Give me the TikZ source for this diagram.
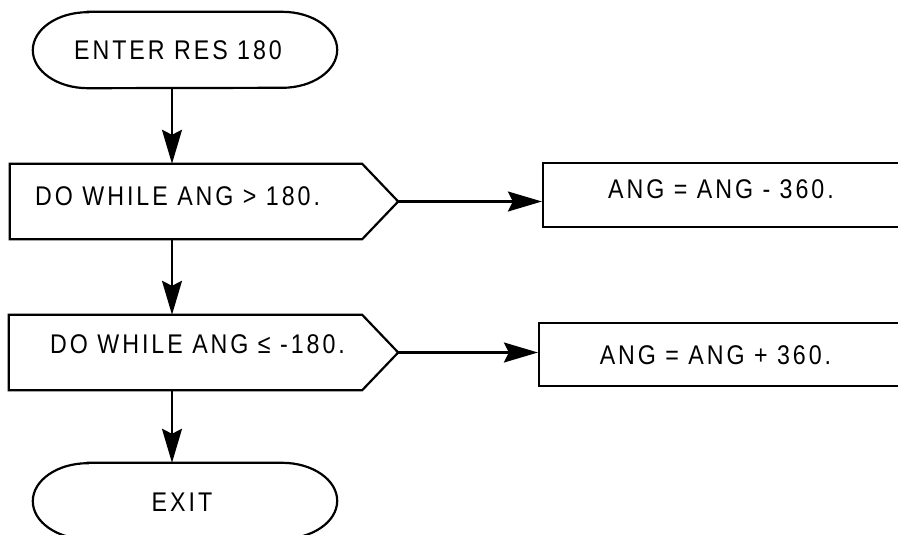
\documentclass[tikz,border=0pt]{standalone}
\usepackage{fontspec}
\setmainfont{Liberation Sans}
\newfontfamily\chartfont[FakeStretch=0.86,LetterSpace=11]{Liberation Sans}
\usetikzlibrary{arrows.meta}

\tikzset{
  flow/.style={line width=2.2pt},
  arr/.style={flow, -{Stealth[length=34pt,width=20pt,inset=5pt]}},
  txt/.style={font=\chartfont\fontsize{27}{30}\selectfont, inner sep=0pt},
  term/.style={minimum width=304pt, minimum height=76pt, inner sep=0pt},
  loopbody/.style={minimum height=75pt, inner sep=0pt},
  actbox/.style={draw, flow, inner sep=0pt},
}

% oval ends of a terminal
\newcommand{\termoutline}[1]{%
  \draw[flow] ([xshift=55pt]#1.north west) -- ([xshift=-55pt]#1.north east)
    arc[start angle=90, end angle=-90, x radius=55pt, y radius=38pt]
    -- ([xshift=55pt]#1.south west)
    arc[start angle=270, end angle=90, x radius=55pt, y radius=38pt] -- cycle;}

% box with a pointed right end
\newcommand{\loopoutline}[1]{%
  \coordinate (#1tip) at ([xshift=36pt]#1.east);
  \draw[flow] (#1.north west) -- (#1.north east) -- (#1tip)
    -- (#1.south east) -- (#1.south west) -- cycle;}

\begin{document}
\begin{tikzpicture}[x=1pt, y=-1pt]
\clip (0,0) rectangle (898,535);

\node[term] (enter) at (185, 50) {};
\termoutline{enter}
\node[txt, anchor=base] (entertxt) at (178, 60) {ENTER RES 180};

\node[loopbody, minimum width=352pt] (w1) at (186, 201.5) {};
\loopoutline{w1}
\node[txt, anchor=base west] (w1txt) at (35, 205) {DO WHILE ANG > 180.};

\node[loopbody, minimum width=353pt] (w2) at (185.5, 352.5) {};
\loopoutline{w2}
\node[txt, anchor=base west] (w2txt) at (50, 353) {DO WHILE ANG ≤ -180.};

\node[term] (exit) at (185, 501) {};
\termoutline{exit}
\node[txt, anchor=base] (exittxt) at (182, 511) {EXIT};

% right hand boxes run past the edge
\node[actbox, minimum width=362pt, minimum height=64pt] (a1) at (724, 195) {};
\node[txt, anchor=base] (a1txt) at (721, 198) {ANG = ANG - 360.};
\node[actbox, minimum width=366pt, minimum height=63pt] (a2) at (722, 354.5) {};
\node[txt, anchor=base] (a2txt) at (715.5, 364) {ANG = ANG + 360.};

\coordinate (spine) at (172, 0);
\draw[arr] (enter.south -| spine) -- (w1.north -| spine);
\draw[arr] (w1.south -| spine) -- (w2.north -| spine);
\draw[arr] (w2.south -| spine) -- (exit.north -| spine);
\draw[arr] (w1tip) -- (w1tip -| a1.west);
\draw[arr] (w2tip) -- (w2tip -| a2.west);
\end{tikzpicture}
\end{document}
